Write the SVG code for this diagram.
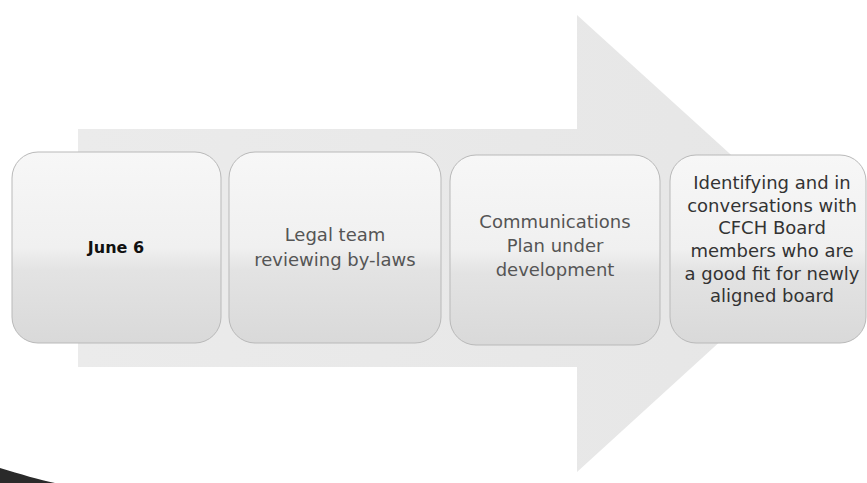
<svg xmlns="http://www.w3.org/2000/svg" width="867" height="483" viewBox="0 0 867 483">
<style>
.box{stroke:#b9b9b9;stroke-width:1;fill:url(#boxg)}
.t{font-family:"DejaVu Sans","Noto Sans",sans-serif;font-size:18px;text-anchor:middle;fill:#555}
</style>
<defs>
<linearGradient id="boxg" x1="0" y1="0" x2="0" y2="1">
<stop offset="0" stop-color="#f7f7f7"/>
<stop offset="0.5" stop-color="#f0f0f0"/>
<stop offset="0.62" stop-color="#e3e3e3"/>
<stop offset="1" stop-color="#d9d9d9"/>
</linearGradient>
<linearGradient id="arrg" x1="0" y1="0" x2="1" y2="0">
<stop offset="0" stop-color="#ebebeb"/>
<stop offset="1" stop-color="#e6e6e6"/>
</linearGradient>
</defs>
<rect width="867" height="483" fill="#ffffff"/>
<g id="arrow">
<polygon points="78,129 577,129 577,15 828,243 577,472 577,367 78,367" fill="url(#arrg)"/>
</g>
<g id="connectors"></g>
<g id="node1">
<rect class="box" x="12" y="152" width="209" height="191" rx="26"/>
<text class="t" x="116" y="253" style="font-weight:bold;font-size:16px;fill:#111">June 6</text>
</g>
<g id="node2">
<rect class="box" x="229" y="152" width="212" height="191" rx="26"/>
<text class="t" x="335" y="241">Legal team</text>
<text class="t" x="335" y="266">reviewing by-laws</text>
</g>
<g id="node3">
<rect class="box" x="450" y="155" width="210" height="190" rx="26"/>
<text class="t" x="555" y="228">Communications</text>
<text class="t" x="555" y="252">Plan under</text>
<text class="t" x="555" y="276">development</text>
</g>
<g id="node4">
<rect class="box" x="670" y="155" width="196" height="188" rx="26"/>
<g class="t" style="fill:#333">
<text x="772" y="189">Identifying and in</text>
<text x="772" y="212">conversations with</text>
<text x="772" y="234">CFCH Board</text>
<text x="772" y="257">members who are</text>
<text x="772" y="280">a good fit for newly</text>
<text x="772" y="302">aligned board</text>
</g>
</g>
<path d="M0,468 C20,474 40,480 55,483 L0,483 Z" fill="#2a2a2a"/>
</svg>
